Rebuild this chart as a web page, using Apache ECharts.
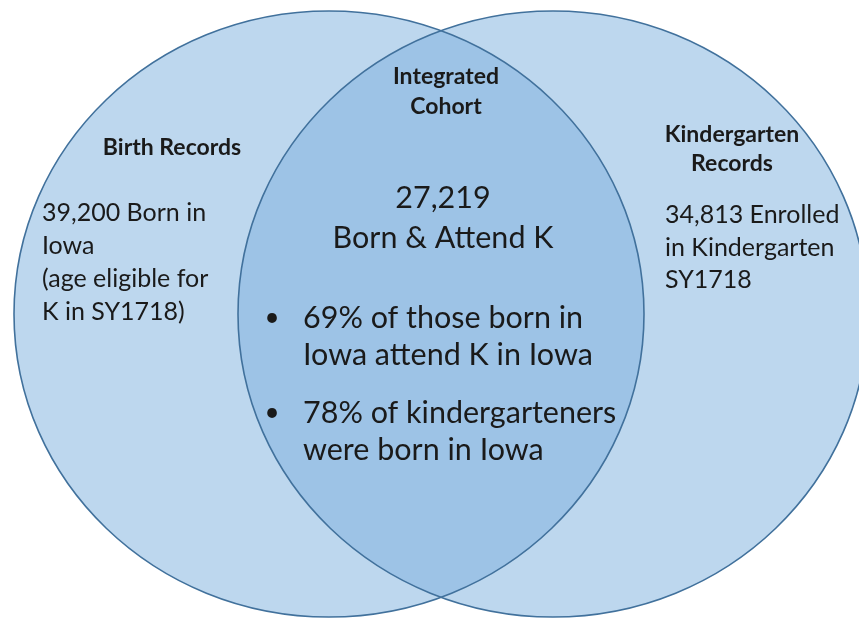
<!DOCTYPE html>
<html>
<head>
<meta charset="utf-8">
<script src="https://cdn.jsdelivr.net/npm/echarts@6/dist/echarts.min.js"></script>
<style>
  html, body { margin: 0; padding: 0; background: #fff; }
  #chart { width: 859px; height: 618px; }
</style>
</head>
<body>
<div id="chart"></div>
<script>
// venn data
const setNames = ['Birth Records', 'Kindergarten Records'];
const setCounts = [39200, 34813];
const overlapName = 'Integrated Cohort';
const overlapCount = 27219;
const overlapPct = [69, 78];

// text shown in each region
const leftTitle = ['Birth Records'];
const leftLines = ['39,200 Born in', 'Iowa', '(age eligible for', 'K in SY1718)'];
const rightTitle = ['Kindergarten', 'Records'];
const rightLines = ['34,813 Enrolled', 'in Kindergarten', 'SY1718'];
const midTitle = ['Integrated', 'Cohort'];
const midLines = ['27,219', 'Born & Attend K'];
const bullets = [
  ['69% of those born in', 'Iowa attend K in Iowa'],
  ['78% of kindergarteners', 'were born in Iowa']
];

// layout (axis units = px)
const centers = [[329, 314], [553, 314]];
const radius = [315, 303];

const FONT = 'Lato, "Open Sans", sans-serif';
const TXT = '#1a1a1a';

const chart = echarts.init(document.getElementById('chart'));

function textEl(str, x, y, size, bold, align) {
  return {
    type: 'text',
    x: x, y: y,
    style: {
      text: str,
      font: (bold ? 'bold ' : '') + size + 'px ' + FONT,
      fill: TXT,
      align: align || 'left',
      verticalAlign: 'middle'
    },
    z: 10
  };
}

const graphics = [];
graphics.push(textEl(leftTitle[0], 172, 148, 23, true, 'center'));
leftLines.forEach((s, i) => graphics.push(textEl(s, 42, 213 + i * 33, 25, false)));
rightTitle.forEach((s, i) => graphics.push(textEl(s, 732, 135 + i * 29, 23, true, 'center')));
rightLines.forEach((s, i) => graphics.push(textEl(s, 665, 215 + i * 32.5, 25, false)));
midTitle.forEach((s, i) => graphics.push(textEl(s, 446, 77 + i * 30, 23, true, 'center')));
midLines.forEach((s, i) => graphics.push(textEl(s, 443, 198 + i * 40, 30.5, false, 'center')));
const bulletTop = [318, 413];
bullets.forEach((b, k) => {
  graphics.push(textEl('\u2022', 272, bulletTop[k], 26, false, 'center'));
  b.forEach((s, i) => graphics.push(textEl(s, 303, bulletTop[k] + i * 37, 30.5, false)));
});

function renderItem(params, api) {
  const idx = params.dataIndex;
  const sz = api.size([radius[0], radius[1]]);
  const rx = sz[0], ry = sz[1];
  const c0 = api.coord(centers[0]);
  const c1 = api.coord(centers[1]);
  if (idx < 2) {
    const c = idx === 0 ? c0 : c1;
    return {
      type: 'group',
      children: [{
        type: 'ellipse',
        shape: { cx: c[0], cy: c[1], rx: rx, ry: ry },
        style: { fill: '#bdd7ee', stroke: null },
        z2: 1
      }, {
        type: 'ellipse',
        shape: { cx: c[0], cy: c[1], rx: rx, ry: ry },
        style: { fill: null, stroke: '#41719c', lineWidth: 1.6 },
        z2: 5
      }]
    };
  }
  // overlap lens
  const mx = (c0[0] + c1[0]) / 2;
  const dx = (c1[0] - c0[0]) / 2;
  const dy = ry * Math.sqrt(1 - (dx / rx) * (dx / rx));
  const ty = c0[1] - dy, by = c0[1] + dy;
  const d = 'M' + mx + ' ' + ty +
    ' A' + rx + ' ' + ry + ' 0 0 1 ' + mx + ' ' + by +
    ' A' + rx + ' ' + ry + ' 0 0 1 ' + mx + ' ' + ty + ' Z';
  return {
    type: 'path',
    shape: { pathData: d },
    style: { fill: '#9dc3e6', stroke: null },
    z2: 2
  };
}

chart.setOption({
  animation: false,
  grid: { left: 0, right: 0, top: 0, bottom: 0 },
  xAxis: { type: 'value', min: 0, max: 859, show: false },
  yAxis: { type: 'value', min: 0, max: 618, inverse: true, show: false },
  graphic: graphics,
  series: [{
    type: 'custom',
    renderItem: renderItem,
    clip: false,
    data: [
      { name: setNames[0], value: [setCounts[0]] },
      { name: setNames[1], value: [setCounts[1]] },
      { name: overlapName, value: [overlapCount] }
    ]
  }]
});
</script>
</body>
</html>
